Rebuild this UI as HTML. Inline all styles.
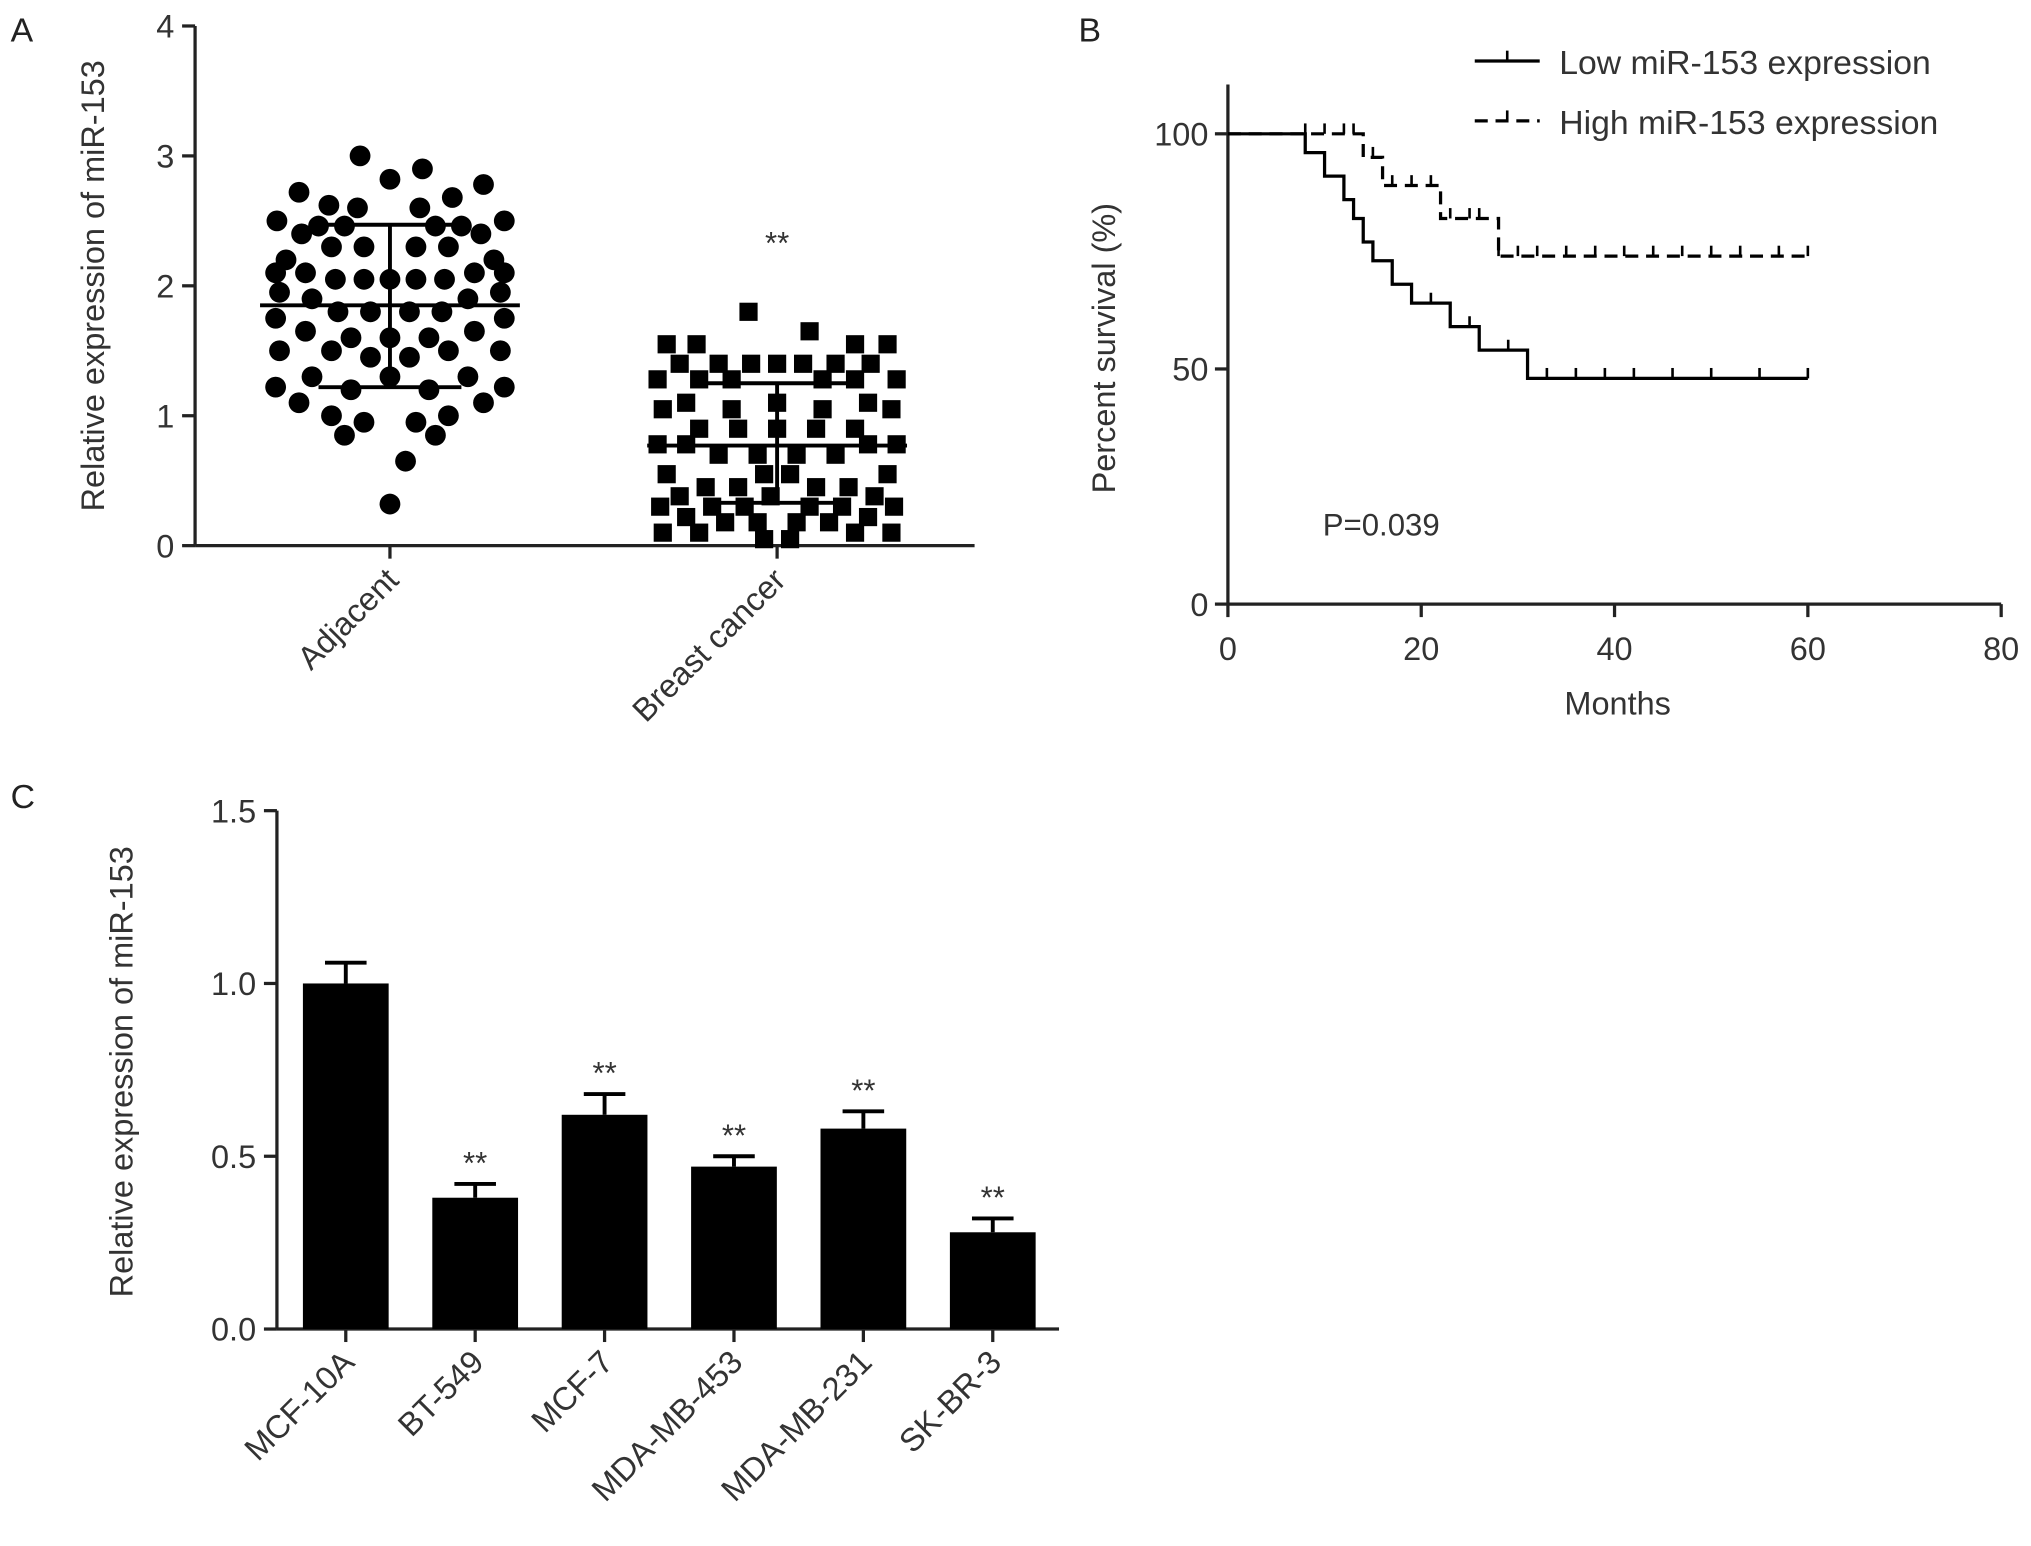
<!DOCTYPE html>
<html><head><meta charset="utf-8"><style>html,body{margin:0;padding:0;background:#fff}svg{display:block;font-family:"Liberation Sans",sans-serif}</style></head>
<body>
<svg id="fig" width="2031" height="1546" viewBox="0 0 1563 1190" xmlns="http://www.w3.org/2000/svg">
<g id="pA"></g>
<g id="pB"></g>
<g id="pC"></g>
</svg>
<script>
// Panel A data
const adjRows = [[3.0,[-23]],[2.9,[25]],[2.82,[0]],[2.78,[72]],[2.72,[-70]],[2.68,[48]],[2.62,[-47]],[2.6,[-25,23]],[2.5,[-87,88]],[2.46,[-55,-35,35,55]],[2.4,[-68,70]],[2.3,[-45,-20,20,45]],[2.2,[-80,80]],[2.1,[-88,-65,65,88]],[2.05,[-42,-20,0,20,42]],[1.95,[-85,85]],[1.9,[-60,60]],[1.8,[-40,-15,15,40]],[1.75,[-88,88]],[1.65,[-65,65]],[1.6,[-30,0,30]],[1.5,[-85,-45,45,85]],[1.45,[-15,15]],[1.3,[-60,0,60]],[1.22,[-88,88]],[1.2,[-30,30]],[1.1,[-70,72]],[1.0,[-45,45]],[0.95,[-20,20]],[0.85,[-35,35]],[0.65,[12]],[0.32,[0]]];
const bcRows = [[1.8,[-22]],[1.65,[25]],[1.55,[-85,-62,60,85]],[1.4,[-75,-45,-20,0,20,45,72]],[1.28,[-92,-60,-35,35,60,92]],[1.1,[-70,0,70]],[1.05,[-88,-35,35,88]],[0.9,[-60,-30,0,30,60]],[0.78,[-92,-70,70,92]],[0.7,[-45,-15,15,45]],[0.55,[-85,-10,10,85]],[0.45,[-55,-30,30,55]],[0.38,[-75,-5,75]],[0.3,[-90,-50,-25,25,50,90]],[0.22,[-70,70]],[0.18,[-40,-15,15,40]],[0.1,[-88,-60,60,88]],[0.05,[-10,10]]];
const aStats = {adj:[1.85,2.47,1.22], bc:[0.77,1.25,0.33]};
const aTicks = [0,1,2,3,4];
// Panel B data (event times and survival after each drop)
const lowSteps = [[0,100],[8,96],[10,91],[12,86],[13,82],[14,77],[15,73],[17,68],[19,64],[23,59],[26,54],[31,48],[60,48]];
const lowCens = [21,25,29,33,36,39,42,46,50,55,60];
const highSteps = [[0,100],[14,95],[16,89],[22,82],[28,74],[60,74]];
const highCens = [8,10,12,13,15,17,19,21,23,25,26,28,30,32,35,38,41,44,47,50,53,57,60];
const bXTicks = [0,20,40,60,80];
const bYTicks = [0,50,100];
// Panel C data
const cLabels = ["MCF-10A","BT-549","MCF-7","MDA-MB-453","MDA-MB-231","SK-BR-3"];
const cVals = [1.0,0.38,0.62,0.47,0.58,0.28];
const cErr = [0.06,0.04,0.06,0.03,0.05,0.04];
const cSig = [false,true,true,true,true,true];
const cTicks = ["0.0","0.5","1.0","1.5"];

const NS="http://www.w3.org/2000/svg";
function mk(p,tag,at,txt){const e=document.createElementNS(NS,tag);for(const k in at)e.setAttribute(k,at[k]);if(txt!==undefined)e.textContent=txt;p.appendChild(e);return e;}
const G='#222';
// ---- A
const A=document.getElementById('pA');
const ay=v=>420-v*100;
let t=mk(A,'text',{x:8,y:32,'font-size':26,fill:G},'A');
let l=mk(A,'line',{x1:150,y1:ay(0),x2:150,y2:ay(4),stroke:G,'stroke-width':2.5});
l=mk(A,'line',{x1:150,y1:420,x2:750,y2:420,stroke:G,'stroke-width':2.5});
aTicks.forEach(v=>{mk(A,'line',{x1:140,y1:ay(v),x2:150,y2:ay(v),stroke:G,'stroke-width':2.5});
 t=mk(A,'text',{x:134,y:ay(v)+9,'font-size':25,'text-anchor':'end',fill:'#333'},v);});
[300,598].forEach(x=>mk(A,'line',{x1:x,y1:420,x2:x,y2:430,stroke:G,'stroke-width':2.5}));
t=mk(A,'text',{transform:'translate(80,220) rotate(-90)','font-size':25,'text-anchor':'middle',fill:'#333'},'Relative expression of miR-153');
t=mk(A,'text',{transform:'translate(308,448) rotate(-45)','font-size':25,'text-anchor':'end',fill:'#333'},'Adjacent');
t=mk(A,'text',{transform:'translate(606,448) rotate(-45)','font-size':25,'text-anchor':'end',fill:'#333'},'Breast cancer');
adjRows.forEach(([v,xs])=>xs.forEach(o=>{const c=mk(A,'circle',{cx:300+o,cy:ay(v),r:8,fill:'#000'});}));
bcRows.forEach(([v,xs])=>xs.forEach(o=>{const r=mk(A,'rect',{x:598+o-7,y:ay(v)-7,width:14,height:14,fill:'#000'});}));
function stat(cx,s,nm){mk(A,'line',{x1:cx-100,x2:cx+100,y1:ay(s[0]),y2:ay(s[0]),stroke:'#000','stroke-width':3});
 mk(A,'line',{x1:cx-55,x2:cx+55,y1:ay(s[1]),y2:ay(s[1]),stroke:'#000','stroke-width':3});
 mk(A,'line',{x1:cx-55,x2:cx+55,y1:ay(s[2]),y2:ay(s[2]),stroke:'#000','stroke-width':3});
 mk(A,'line',{x1:cx,x2:cx,y1:ay(s[1]),y2:ay(s[2]),stroke:'#000','stroke-width':3});}
stat(300,aStats.adj,'adjacent');stat(598,aStats.bc,'cancer');
t=mk(A,'text',{x:598,y:195,'font-size':24,'text-anchor':'middle',fill:'#333'},'**');
// ---- B
const B=document.getElementById('pB');
const bx=m=>945+m*7.44, by=p=>465-p*3.62;
t=mk(B,'text',{x:830,y:32,'font-size':26,fill:G},'B');
l=mk(B,'line',{x1:945,y1:465,x2:945,y2:65,stroke:G,'stroke-width':2.5});
l=mk(B,'line',{x1:945,y1:465,x2:bx(80),y2:465,stroke:G,'stroke-width':2.5});
bXTicks.forEach(v=>{mk(B,'line',{x1:bx(v),y1:465,x2:bx(v),y2:475,stroke:G,'stroke-width':2.5});
 t=mk(B,'text',{x:bx(v),y:508,'font-size':25,'text-anchor':'middle',fill:'#333'},v);});
bYTicks.forEach(v=>{mk(B,'line',{x1:935,y1:by(v),x2:945,y2:by(v),stroke:G,'stroke-width':2.5});
 t=mk(B,'text',{x:930,y:by(v)+9,'font-size':25,'text-anchor':'end',fill:'#333'},v);});
t=mk(B,'text',{x:1245,y:550,'font-size':25,'text-anchor':'middle',fill:'#333'},'Months');
t=mk(B,'text',{transform:'translate(858,268) rotate(-90)','font-size':25,'text-anchor':'middle',fill:'#333'},'Percent survival (%)');
t=mk(B,'text',{x:1018,y:412,'font-size':24,fill:'#333'},'P=0.039');
function stepPath(st){let d='M'+bx(st[0][0])+','+by(st[0][1]);for(let i=1;i<st.length;i++){d+=' H'+bx(st[i][0])+' V'+by(st[i][1]);}return d;}
function survY(st,m){let y=st[0][1];st.forEach(p=>{if(p[0]<=m)y=p[1];});return y;}
let p=mk(B,'path',{d:stepPath(lowSteps),fill:'none',stroke:'#000','stroke-width':2.5});
lowCens.forEach(m=>mk(B,'line',{x1:bx(m),x2:bx(m),y1:by(survY(lowSteps,m)),y2:by(survY(lowSteps,m))-8,stroke:'#000','stroke-width':2}));
p=mk(B,'path',{d:stepPath(highSteps),fill:'none',stroke:'#000','stroke-width':2.5,'stroke-dasharray':'10,6'});
highCens.forEach(m=>mk(B,'line',{x1:bx(m),x2:bx(m),y1:by(survY(highSteps,m)),y2:by(survY(highSteps,m))-8,stroke:'#000','stroke-width':2}));
let lg=mk(B,'g',{});
mk(lg,'line',{x1:1135,x2:1185,y1:47,y2:47,stroke:'#000','stroke-width':2.5});mk(lg,'line',{x1:1160,x2:1160,y1:47,y2:39,stroke:'#000','stroke-width':2});
mk(lg,'text',{x:1200,y:57,'font-size':26,fill:'#333'},'Low miR-153 expression');
lg=mk(B,'g',{});
mk(lg,'line',{x1:1135,x2:1185,y1:93,y2:93,stroke:'#000','stroke-width':2.5,'stroke-dasharray':'10,6'});mk(lg,'line',{x1:1160,x2:1160,y1:93,y2:85,stroke:'#000','stroke-width':2});
mk(lg,'text',{x:1200,y:103,'font-size':26,fill:'#333'},'High miR-153 expression');
// ---- C
const C=document.getElementById('pC');
const cy=v=>1023-v*266, cx=i=>266+i*99.6;
t=mk(C,'text',{x:8,y:622,'font-size':26,fill:G},'C');
l=mk(C,'line',{x1:213,y1:1023,x2:213,y2:cy(1.5),stroke:G,'stroke-width':2.5});
l=mk(C,'line',{x1:213,y1:1023,x2:815,y2:1023,stroke:G,'stroke-width':2.5});
cTicks.forEach(s=>{const v=parseFloat(s);mk(C,'line',{x1:203,y1:cy(v),x2:213,y2:cy(v),stroke:G,'stroke-width':2.5});
 t=mk(C,'text',{x:197,y:cy(v)+9,'font-size':25,'text-anchor':'end',fill:'#333'},s);});
t=mk(C,'text',{transform:'translate(102,825) rotate(-90)','font-size':25,'text-anchor':'middle',fill:'#333'},'Relative expression of miR-153');
cVals.forEach((v,i)=>{const x=cx(i);
 mk(C,'line',{x1:x,x2:x,y1:cy(v),y2:cy(v+cErr[i]),stroke:'#000','stroke-width':3});
 mk(C,'line',{x1:x-16,x2:x+16,y1:cy(v+cErr[i]),y2:cy(v+cErr[i]),stroke:'#000','stroke-width':3});
 const r=mk(C,'rect',{x:x-33,y:cy(v),width:66,height:1023-cy(v),fill:'#000'});
 mk(C,'line',{x1:x,x2:x,y1:1023,y2:1033,stroke:G,'stroke-width':2.5});
 if(cSig[i]){t=mk(C,'text',{x:x,y:cy(v+cErr[i])-8,'font-size':24,'text-anchor':'middle',fill:'#333'},'**');}
 t=mk(C,'text',{transform:'translate('+(x+8)+',1050) rotate(-45)','font-size':25,'text-anchor':'end',fill:'#333'},cLabels[i]);
});
</script>
</body></html>
